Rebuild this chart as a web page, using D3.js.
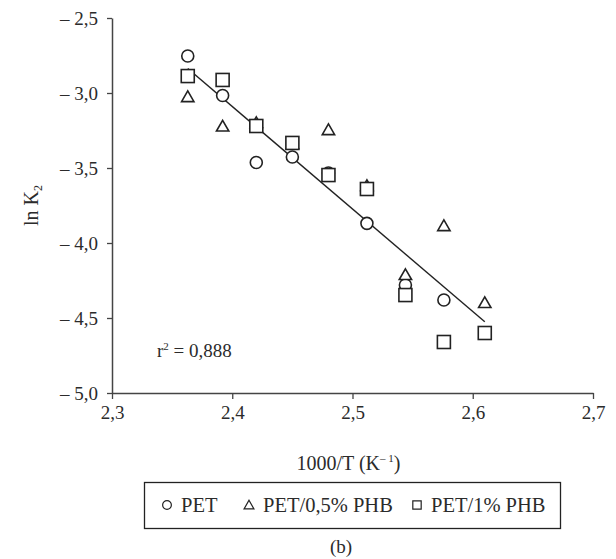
<!DOCTYPE html>
<html>
<head>
<meta charset="utf-8">
<script src="https://cdn.jsdelivr.net/npm/d3@7"></script>
<style>
  body { margin: 0; background: #fff; }
  svg text { font-family: "Liberation Serif", "DejaVu Serif", serif; fill: #2b2b2b; }
</style>
</head>
<body>
<div id="chart"></div>
<script>
// 1000/T values (K^-1)
var invT = [2.363, 2.392, 2.420, 2.450, 2.480, 2.512, 2.544, 2.576, 2.610];
// ln K2 for each sample
var pet = [-2.753, -3.017, -3.463, -3.427, -3.533, -3.869, -4.280, -4.380, -4.600];
var pet05 = [-3.027, -3.223, -3.200, -3.340, -3.247, -3.620, -4.213, -3.887, -4.400];
var pet1 = [-2.887, -2.913, -3.220, -3.333, -3.547, -3.640, -4.347, -4.660, -4.600];
// linear fit drawn on the PET series
var fitX = [2.363, 2.610];
var fitY = [-2.837, -4.525];
var xTicks = [2.3, 2.4, 2.5, 2.6, 2.7];
var yTicks = [-5.0, -4.5, -4.0, -3.5, -3.0, -2.5];
var legendLabels = ["PET", "PET/0,5% PHB", "PET/1% PHB"];

var svgWidth = 616;
var svgHeight = 559;
var margin = { top: 18, left: 112 };
var width = 481;
var height = 375;

var svg = d3.select("#chart")
  .append("svg")
  .attr("width", svgWidth)
  .attr("height", svgHeight);

var chartGroup = svg.append("g")
  .attr("transform", `translate(${margin.left}, ${margin.top})`);

var x = d3.scaleLinear().domain([2.3, 2.7]).range([0, width]);
var y = d3.scaleLinear().domain([-5, -2.5]).range([height, 0]);

var comma = d => d3.format(".1f")(d).replace(".", ",");

var bottomAxis = d3.axisBottom(x)
  .tickValues(xTicks)
  .tickSize(6)
  .tickSizeOuter(0)
  .tickPadding(7)
  .tickFormat(comma);

var leftAxis = d3.axisLeft(y)
  .tickValues(yTicks)
  .tickSize(5)
  .tickSizeOuter(0)
  .tickPadding(9)
  .tickFormat(d => "\u2013 " + comma(-d));

var gx = chartGroup.append("g")
  .attr("transform", `translate(0, ${height})`)
  .call(bottomAxis);

var gy = chartGroup.append("g")
  .call(leftAxis);

[gx, gy].forEach(function(g) {
  g.select(".domain").attr("stroke", "#444").attr("stroke-width", 1.5);
  g.selectAll(".tick line").attr("stroke", "#444").attr("stroke-width", 1.3);
  g.selectAll(".tick text")
    .attr("font-size", "19px")
    .attr("font-family", "Liberation Serif")
    .attr("fill", "#2b2b2b");
});

// fit line
chartGroup.append("line")
  .attr("x1", x(fitX[0]))
  .attr("y1", y(fitY[0]))
  .attr("x2", x(fitX[1]))
  .attr("y2", y(fitY[1]))
  .attr("stroke", "#222")
  .attr("stroke-width", 1.4);

var markerStyle = g => g.attr("fill", "#fff").attr("stroke", "#222").attr("stroke-width", 1.6);

// Circles (PET)
chartGroup.selectAll(".pet")
  .data(pet)
  .enter()
  .append("circle")
  .attr("class", "pet")
  .attr("cx", (d, i) => x(invT[i]))
  .attr("cy", d => y(d))
  .attr("r", 6)
  .call(markerStyle);

// Triangles (PET/0,5% PHB)
var tri = d3.symbol().type(d3.symbolTriangle).size(66);
chartGroup.selectAll(".pet05")
  .data(pet05)
  .enter()
  .append("path")
  .attr("class", "pet05")
  .attr("d", tri)
  .attr("transform", (d, i) => `translate(${x(invT[i])}, ${y(d) + 1})`)
  .call(markerStyle);

// Squares (PET/1% PHB)
chartGroup.selectAll(".pet1")
  .data(pet1)
  .enter()
  .append("rect")
  .attr("class", "pet1")
  .attr("x", (d, i) => x(invT[i]) - 6.5)
  .attr("y", d => y(d) - 6.5)
  .attr("width", 13)
  .attr("height", 13)
  .call(markerStyle);

// r2 label
var r2 = chartGroup.append("text")
  .attr("x", x(2.3) + 45)
  .attr("y", y(-4.75) + 1)
  .attr("font-size", "19px");
r2.append("tspan").text("r");
r2.append("tspan").attr("font-size", "11px").attr("dy", "-7").text("2");
r2.append("tspan").attr("dy", "7").text(" = 0,888");

// Y-Axis Label
var yl = svg.append("text")
  .attr("transform", `translate(38, ${margin.top + height / 2}) rotate(-90)`)
  .attr("text-anchor", "middle")
  .attr("font-size", "20px");
yl.append("tspan").text("ln K");
yl.append("tspan").attr("font-size", "12px").attr("dy", "4").text("2");

// X-Axis Label
var xl = svg.append("text")
  .attr("x", margin.left + width / 2 - 4)
  .attr("y", 470)
  .attr("text-anchor", "middle")
  .attr("font-size", "20px");
xl.append("tspan").text("1000/T (K");
xl.append("tspan").attr("font-size", "11px").attr("dy", "-8").text("\u2013 1");
xl.append("tspan").attr("dy", "8").text(")");

// Legend
var legend = svg.append("g");
legend.append("rect")
  .attr("x", 144.5)
  .attr("y", 482.5)
  .attr("width", 416)
  .attr("height", 46)
  .attr("fill", "none")
  .attr("stroke", "#222")
  .attr("stroke-width", 1.3);

var legendX = [167, 249, 417];
var legendShapes = [d3.symbolCircle, d3.symbolTriangle, d3.symbolSquare];
var legendSizes = [60, 42, 70];
legendLabels.forEach(function(label, i) {
  legend.append("path")
    .attr("d", d3.symbol().type(legendShapes[i]).size(legendSizes[i]))
    .attr("transform", `translate(${legendX[i]}, ${i == 1 ? 506 : 505})`)
    .attr("fill", "none")
    .attr("stroke", "#222")
    .attr("stroke-width", 1.2);
  legend.append("text")
    .attr("x", legendX[i] + 14)
    .attr("y", 512)
    .attr("font-size", "20.5px")
    .text(label);
});

svg.append("text")
  .attr("x", 341)
  .attr("y", 553)
  .attr("text-anchor", "middle")
  .attr("font-size", "19px")
  .text("(b)");
</script>
</body>
</html>
